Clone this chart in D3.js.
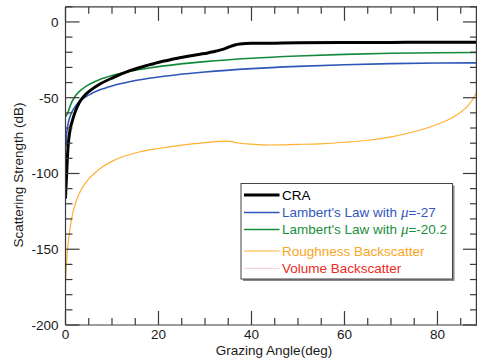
<!DOCTYPE html>
<html>
<head>
<meta charset="utf-8">
<script src="https://cdn.jsdelivr.net/npm/d3@7"></script>
<style>
  html, body { margin: 0; padding: 0; background: #fff; }
  svg { display: block; font-family: Helvetica, "Liberation Sans", Arial, sans-serif; }
</style>
</head>
<body>
<svg id="chart" width="477" height="360"></svg>
<script>
// Scattering strength vs grazing angle: [angle (deg), strength (dB)]
const craCurve = [[0,-116],[0.25,-100],[0.45,-87],[1,-71],[1.5,-65],[2,-60],[3,-53],[4.2,-48.3],
  [5.5,-44.8],[7.4,-41],[10,-37],[14,-32],[18,-28.3],[20.3,-26.4],[23.2,-24.5],[26,-22.8],
  [28.9,-21.3],[30.4,-20.6],[32,-19.5],[33.2,-18.6],[34.3,-17.6],[35.4,-16.3],[36.4,-15.2],
  [37.5,-14.5],[40,-14.1],[45,-14],[50,-13.8],[60,-13.6],[70,-13.5],[80,-13.4],[88.5,-13.4]];
const lambert27 = [[0.1,-82],[0.2,-76],[0.4,-70],[0.7,-65.2],[1,-62.2],[1.5,-58.6],[2,-56.2],
  [3,-52.6],[4.2,-49.7],[5.5,-47.4],[7.4,-44.8],[10,-42.2],[14,-39.3],[18,-37.2],[24,-34.8],
  [30,-33],[40,-30.8],[50,-29.3],[60,-28.2],[70,-27.5],[80,-27.1],[88.5,-27]];
const lambert202 = [[0.15,-62],[0.5,-60],[1,-55.4],[2,-49.4],[3,-45.8],[4.2,-42.9],[5.5,-40.6],
  [7.4,-38],[10,-35.4],[14,-32.5],[18,-30.4],[24,-28],[30,-26.2],[40,-24],[50,-22.5],
  [60,-21.4],[70,-20.7],[80,-20.3],[88.5,-20.2]];
const roughness = [[0,-172],[0.2,-160],[0.5,-148],[1,-136],[1.5,-127],[2,-121],[3,-113],
  [4,-107.5],[5,-103.5],[6,-100.5],[8,-95.5],[10,-92],[12,-89.3],[15,-86.5],[20,-83.5],
  [25,-81.3],[30,-79.7],[34.3,-78.6],[35.5,-78.8],[36.8,-79.7],[40,-80.6],[44,-81.2],
  [50,-80.8],[54.7,-80.4],[60,-79.4],[65.5,-77.9],[70,-75.8],[76.3,-71.3],[80,-67.5],
  [83.5,-62.5],[86.3,-56],[87.5,-51.5],[88.3,-47]];

const xTickLabels = [0, 20, 40, 60, 80];
const yTickLabels = [0, -50, -100, -150, -200];

const series = [
  { name: "CRA", data: craCurve, color: "#000000", width: 3, text: "#000000" },
  { name: "Lambert's Law with ", mu: "-27", data: lambert27, color: "#2e56b8", width: 1.6, text: "#3358bd" },
  { name: "Lambert's Law with ", mu: "-20.2", data: lambert202, color: "#148a3c", width: 1.6, text: "#1a8f40" },
  { name: "Roughness Backscatter", data: roughness, color: "#ffb030", width: 1.2, text: "#f9a623" },
  { name: "Volume Backscatter", data: [], color: "#f7d5d8", width: 1.2, text: "#ee2a24" }
];

const svg = d3.select("#chart");
const pLeft = 65.5, pRight = 477, pTop = 6.8, pBottom = 325;
const x = d3.scaleLinear().domain([0, 88.5]).range([pLeft, pRight]);
const y = d3.scaleLinear().domain([-200, 10]).range([pBottom, pTop]);

const axisColor = "#3a3a3a";
svg.append("defs").append("clipPath").attr("id", "plotclip")
  .append("rect").attr("x", pLeft).attr("y", pTop).attr("width", pRight - pLeft).attr("height", pBottom - pTop);

// curves
const line = d3.line().x(d => x(d[0])).y(d => y(d[1])).curve(d3.curveMonotoneX);
const plot = svg.append("g").attr("clip-path", "url(#plotclip)");
[3, 1, 2, 0].forEach(i => {
  const s = series[i];
  plot.append("path").datum(s.data)
    .attr("d", line).attr("fill", "none")
    .attr("stroke", s.color).attr("stroke-width", s.width)
    .attr("stroke-linejoin", "round").attr("stroke-linecap", "round");
});

// axes with inward ticks: long on labelled values, short in between
const xMinor = d3.range(0, 89, 5);
const yMinor = d3.range(-200, 11, 10);
function tickLen(v, step) { return v % step === 0 ? 14 : 7; }

const axes = svg.append("g").attr("stroke", axisColor).attr("stroke-width", 1.2).attr("fill", "none");
axes.append("line").attr("x1", pLeft).attr("x2", pRight).attr("y1", pBottom).attr("y2", pBottom);
axes.append("line").attr("x1", pLeft).attr("x2", pRight).attr("y1", pTop).attr("y2", pTop);
axes.append("line").attr("x1", pLeft).attr("x2", pLeft).attr("y1", pTop).attr("y2", pBottom);
axes.append("line").attr("x1", pRight - 0.6).attr("x2", pRight - 0.6).attr("y1", pTop).attr("y2", pBottom);

xMinor.forEach(v => {
  const L = tickLen(v, 20);
  axes.append("line").attr("x1", x(v)).attr("x2", x(v)).attr("y1", pBottom).attr("y2", pBottom - L);
  axes.append("line").attr("x1", x(v)).attr("x2", x(v)).attr("y1", pTop).attr("y2", pTop + L);
});
yMinor.forEach(v => {
  const L = tickLen(v, 50);
  axes.append("line").attr("x1", pLeft).attr("x2", pLeft + L).attr("y1", y(v)).attr("y2", y(v));
  axes.append("line").attr("x1", pRight).attr("x2", pRight - L).attr("y1", y(v)).attr("y2", y(v));
});

// tick labels
const labels = svg.append("g").attr("font-size", 13.5).attr("fill", "#1a1a1a");
xTickLabels.forEach(v => {
  labels.append("text").attr("x", x(v)).attr("y", 338.5).attr("text-anchor", "middle").text(v);
});
yTickLabels.forEach(v => {
  labels.append("text").attr("x", 58.5).attr("y", y(v) + 5).attr("text-anchor", "end").text(v);
});

// axis titles
svg.append("text").attr("x", 274).attr("y", 355).attr("text-anchor", "middle")
  .attr("font-size", 13.5).attr("fill", "#1a1a1a").text("Grazing Angle(deg)");
svg.append("text").attr("transform", "translate(23,175) rotate(-90)").attr("text-anchor", "middle")
  .attr("font-size", 13.5).attr("fill", "#1a1a1a").text("Scattering Strength (dB)");

// legend
const lg = svg.append("g");
const lx = 241, ly = 183.5, lw = 211.5, lh = 95.5;
lg.append("rect").attr("x", lx + 2).attr("y", ly + 2).attr("width", lw).attr("height", lh).attr("fill", "#8a8a8a");
lg.append("rect").attr("x", lx).attr("y", ly).attr("width", lw).attr("height", lh)
  .attr("fill", "#fff").attr("stroke", "#444").attr("stroke-width", 1);
const rowY = [195, 212.5, 229.5, 251, 268.3];
series.forEach((s, i) => {
  const yy = rowY[i];
  lg.append("line").attr("x1", 244).attr("x2", 279.5).attr("y1", yy).attr("y2", yy)
    .attr("stroke", s.color).attr("stroke-width", s.width);
  const t = lg.append("text").attr("x", 282).attr("y", yy + 4.8).attr("font-size", 13.5).attr("fill", s.text);
  t.append("tspan").text(s.name);
  if (s.mu) {
    t.append("tspan").attr("font-family", "'Liberation Serif', 'Times New Roman', serif")
      .attr("font-style", "italic").attr("font-size", 15).text("μ");
    t.append("tspan").text("=" + s.mu);
  }
});
</script>
</body>
</html>
